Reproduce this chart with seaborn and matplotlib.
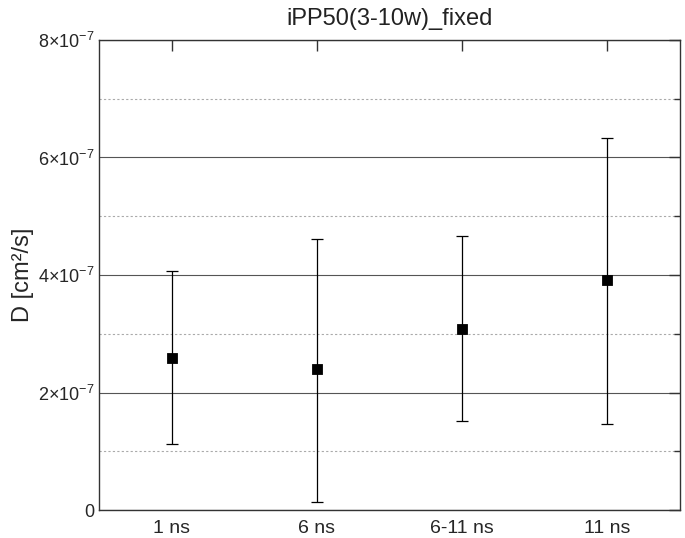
import numpy as np
import matplotlib
matplotlib.use("Agg")
import matplotlib.pyplot as plt
from matplotlib.ticker import MultipleLocator, FuncFormatter
import seaborn as sns
import pandas as pd

# data
categories = ["1 ns", "6 ns", "6-11 ns", "11 ns"]
d_mean = [2.59e-7, 2.40e-7, 3.08e-7, 3.91e-7]
d_upper = [4.07e-7, 4.62e-7, 4.66e-7, 6.33e-7]
d_lower = [1.12e-7, 0.14e-7, 1.51e-7, 1.46e-7]

df = pd.DataFrame({"window": categories, "D": d_mean,
                   "hi": d_upper, "lo": d_lower})

sns.set_style("white")
plt.rcParams["font.family"] = ["Liberation Sans", "DejaVu Sans"]
plt.rcParams["mathtext.fontset"] = "custom"
plt.rcParams["mathtext.rm"] = "Liberation Sans"
plt.rcParams["mathtext.it"] = "Liberation Sans"

fig = plt.figure(figsize=(6.85, 5.38), dpi=100)
ax = fig.add_axes([0.1445, 0.052, 0.8482, 0.8737])

x = np.arange(len(categories))
ax.errorbar(x, df["D"], yerr=[df["D"] - df["lo"], df["hi"] - df["D"]],
            fmt="none", ecolor="black", elinewidth=0.9, capsize=4,
            capthick=0.9, zorder=3)
sns.scatterplot(data=df, x="window", y="D", marker="s", s=55,
                color="black", edgecolor="black", ax=ax, zorder=4)

ax.set_xlim(-0.5, 3.5)
ax.set_ylim(0, 8e-7)
ax.set_xticks(x)
ax.set_xticklabels(categories)

def sci_fmt(v, pos):
    if v == 0:
        return "0"
    m = int(round(v / 1e-7))
    return r"$%d{\times}10^{-7}$" % m

ax.yaxis.set_major_locator(MultipleLocator(2e-7))
ax.yaxis.set_minor_locator(MultipleLocator(1e-7))
ax.yaxis.set_major_formatter(FuncFormatter(sci_fmt))

ax.grid(True, which="major", axis="y", color="#555555", linewidth=0.8)
ax.grid(True, which="minor", axis="y", color="#aaaaaa", linewidth=0.8,
        linestyle=(0, (2, 2)))
ax.set_axisbelow(True)

ax.tick_params(axis="both", which="both", direction="in", top=True,
               right=True, length=8, width=1, color="#333333")
ax.tick_params(axis="y", which="major", labelsize=13)
ax.tick_params(axis="x", which="major", labelsize=14, pad=7)
ax.tick_params(axis="y", which="minor", length=4)
for s in ax.spines.values():
    s.set_color("#333333")
    s.set_linewidth(1)

ax.set_xlabel("")
ax.set_ylabel("D [cm²/s]", fontsize=17, labelpad=3)
ax.set_title("iPP50(3-10w)_fixed", fontsize=17, pad=11, color="#222222")

fig.savefig("out.png", dpi=100)
